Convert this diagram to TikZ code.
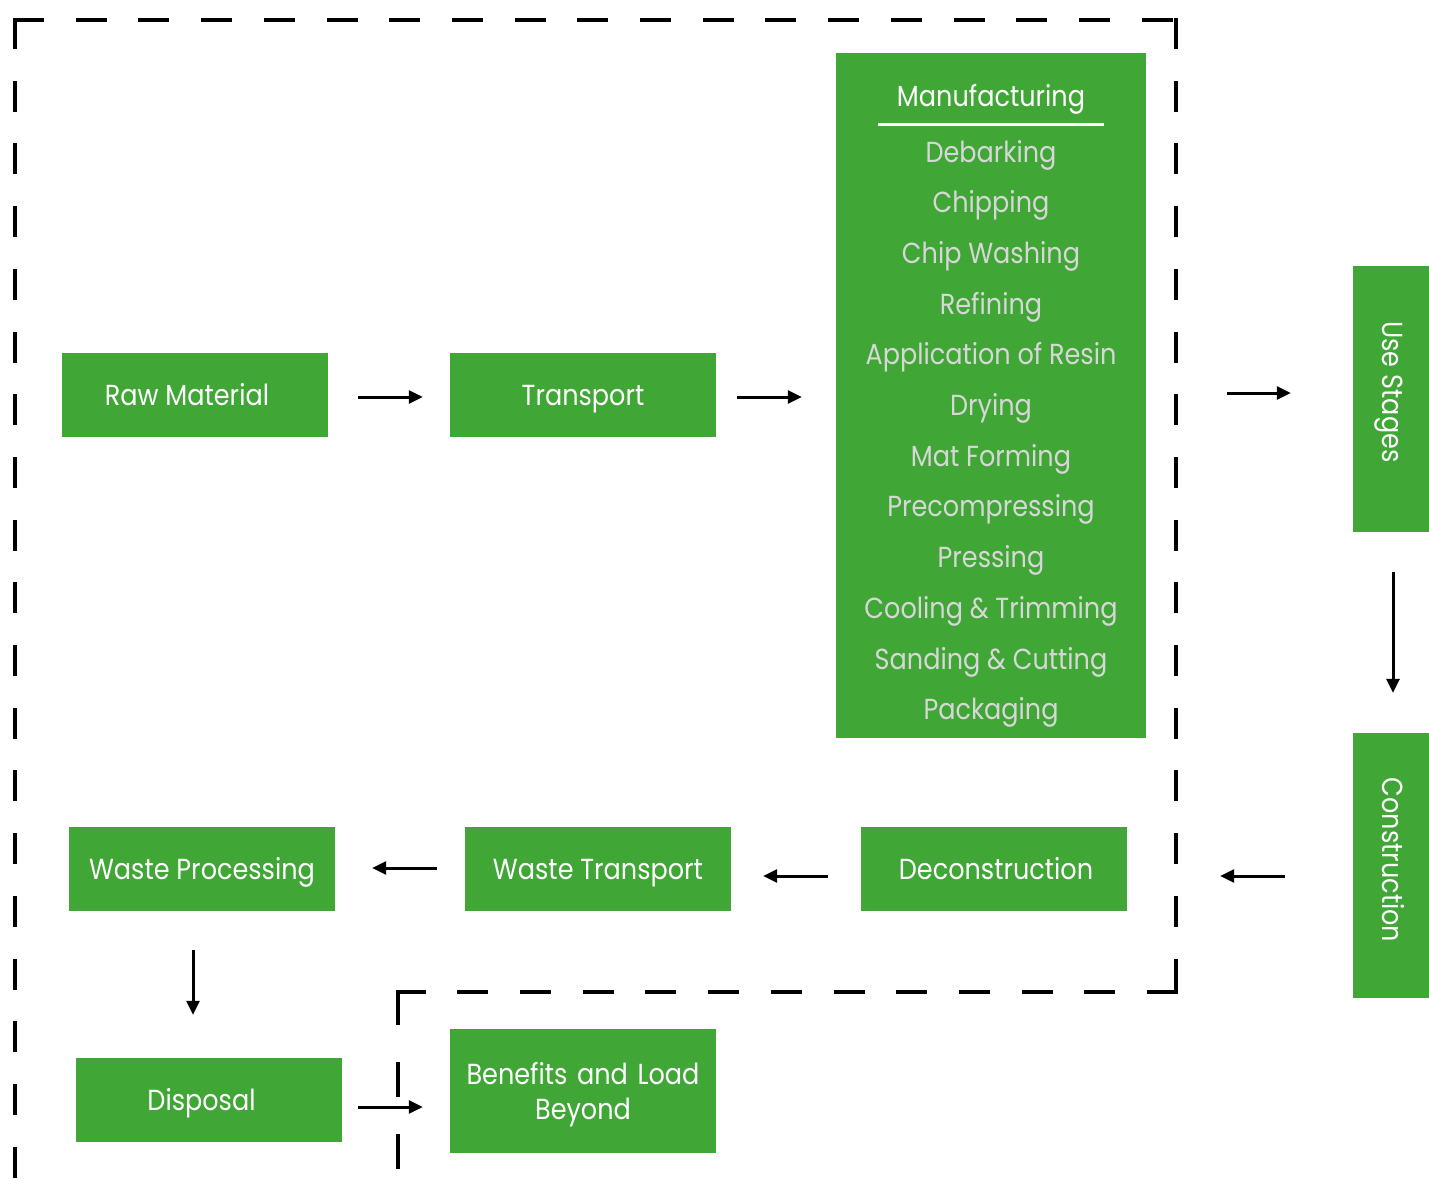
\documentclass[tikz,border=0pt]{standalone}
\usepackage{fontspec}
\setmainfont{Poppins}[FakeStretch=0.88]
\usetikzlibrary{arrows.meta,calc}
\definecolor{boxgreen}{RGB}{64,166,54}
\definecolor{itemgray}{RGB}{215,215,215}
\begin{document}
\begin{tikzpicture}[x=1pt,y=-1pt,
  box/.style={fill=boxgreen, draw=none, text=white, font=\fontsize{29}{35}\selectfont,
    inner sep=0pt, minimum width=266pt, minimum height=84pt, text height=21pt, text depth=0pt},
  item/.style={text=itemgray, font=\fontsize{29}{35}\selectfont, anchor=base, inner sep=0pt},
  flow/.style={line width=3pt, -{Triangle[length=14pt,width=13pt]}},
  bound/.style={line width=4pt, line cap=rect, dash pattern=on 27pt off 35.7pt}
]
\useasboundingbox (0,0) rectangle (1429,1180);

% boundary (dashed)
\draw[bound] (15,20) -- (1176,20);
\draw[bound] (1176,20) -- (1176,992);
\draw[bound] (1176,992) -- (398,992);
\draw[bound, dash pattern=on 31pt off 41pt] (398,992) -- (398,1190);
\draw[bound] (15,20) -- (15,1190);

% boxes
\node[box] (raw) at (195,395) {Raw Material\hspace*{16pt}};
\node[box] (trans) at (583,395) {Transport};
\node[box, minimum width=310pt, minimum height=685pt] (manuf) at (991,395.5) {};
\node[box, rotate=-90, minimum width=266pt, minimum height=80pt] (use) at (1393,399) {Use Stages\hspace*{14pt}};
\node[box, rotate=-90, minimum width=265pt, minimum height=80pt] (cons) at (1393,865.5) {Construction\hspace*{11pt}};
\node[box] (decon) at (994,869) {\hspace*{4pt}Deconstruction};
\node[box] (wt) at (598,869) {Waste Transport};
\node[box] (wp) at (202,869) {Waste Processing};
\node[box] (disp) at (209,1100) {Disposal\hspace*{15pt}};
\node[box, minimum height=124pt, text width=266pt, align=center, text height=21pt, text depth=35pt] (ben) at (583,1091) {Benefits and Load\\Beyond};

% manufacturing content
\node[item, text=white] (mtitle) at (991,107) {Manufacturing};
\draw[white, line width=3pt] (878,125) -- (1104,125);
\foreach \t [count=\i] in {Debarking,Chipping,Chip Washing,Refining,Application of Resin,Drying,Mat Forming,Precompressing,Pressing,Cooling \& Trimming,Sanding \& Cutting,Packaging}{
  \node[item] (m\i) at (991,{162+50.7*(\i-1)}) {\t};
}

% connectors
\draw[flow, shorten <=30pt, shorten >=27pt] (raw.east |- 0,397) -- (trans.west |- 0,397);
\draw[flow, shorten <=21pt, shorten >=34pt] (trans.east |- 0,397) -- (manuf.west |- 0,397);
\draw[flow, shorten <=81pt, shorten >=62pt] (manuf.east |- 0,393) -- (use.south |- 0,393);
\draw[flow, shorten <=40pt, shorten >=40pt] (use.east) -- (cons.west);
\draw[flow, shorten <=68pt, shorten >=93pt] (cons.south |- 0,876) -- (decon.east |- 0,876);
\draw[flow, shorten <=33pt, shorten >=32pt] (decon.west |- 0,876) -- (wt.east |- 0,876);
\draw[flow, shorten <=28pt, shorten >=37pt] (wt.west |- 0,868) -- (wp.east |- 0,868);
\draw[flow, shorten <=39pt, shorten >=43pt] (wp.south -| 193,0) -- (disp.north -| 193,0);
\draw[flow, shorten <=16pt, shorten >=27pt] (disp.east |- 0,1107) -- (ben.west |- 0,1107);
\end{tikzpicture}
\end{document}
